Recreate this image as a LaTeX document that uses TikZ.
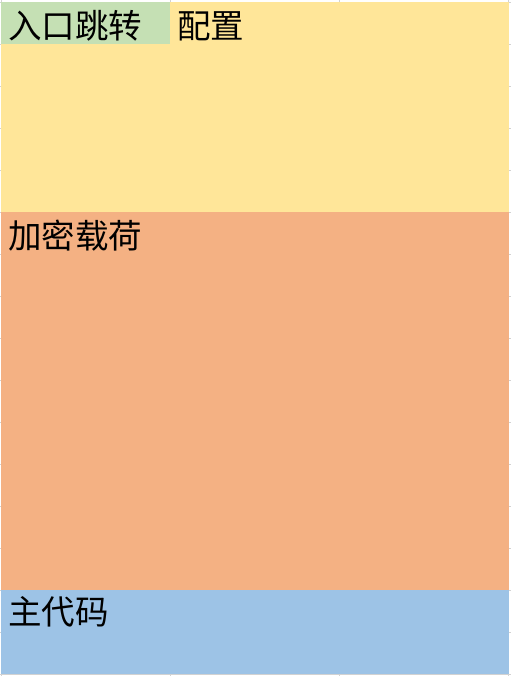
\documentclass[tikz,border=0pt]{standalone}
\usepackage{fontspec}
\newfontfamily\cjk{Noto Sans CJK SC}
\usepackage{tikz}
\definecolor{cfgyellow}{HTML}{FFE699}
\definecolor{jmpgreen}{HTML}{C5E0B4}
\definecolor{encorange}{HTML}{F4B183}
\definecolor{mainblue}{HTML}{9DC3E6}
\tikzset{
  label/.style = {anchor=west, inner sep=0pt, font=\cjk\fontsize{33.5}{33.5}\selectfont},
  block/.style = {draw=none}
}

\begin{document}
\begin{tikzpicture}[x=1pt,y=-1pt]
\useasboundingbox (0,0) rectangle (511,676);
\fill [white] (0,0) rectangle (511,676);
% sheet grid
\foreach \x in {1,170,339,508} \draw [gray!35,line width=0.6pt] (\x,0) -- (\x,676);
\foreach \y in {2,44,86,128,170,212,254,296,338,380,422,464,506,548,590,632,674}
  \draw [gray!35,line width=0.6pt] (0,\y) -- (511,\y);
% blocks
\fill [cfgyellow] (1,2) rectangle (509,212);
\fill [jmpgreen] (1,2) rectangle (170,44);
\fill [encorange] (1,212) rectangle (509,590);
\fill [mainblue] (1,590) rectangle (509,674);
% texts
\node [label] (jump) at (8,26) {入口跳转};
\node [label] (config) at (177,26) {配置};
\node [label] (payload) at (8,236) {加密载荷};
\node [label] (maincode) at (8,612) {主代码};
\end{tikzpicture}
\end{document}
